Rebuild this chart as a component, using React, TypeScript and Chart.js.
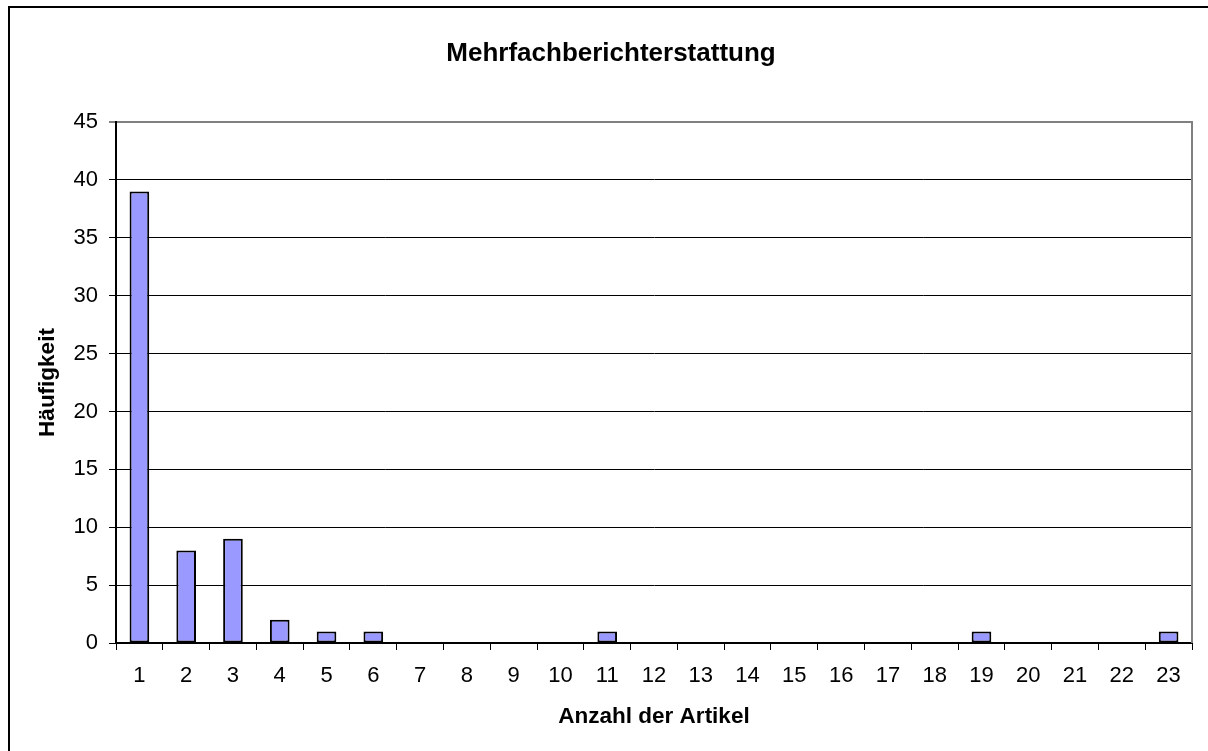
import React, { useEffect, useRef } from "react";
import { Chart, registerables } from "chart.js";

Chart.register(...registerables);

const categories: string[] = [
  "1", "2", "3", "4", "5", "6", "7", "8", "9", "10", "11", "12",
  "13", "14", "15", "16", "17", "18", "19", "20", "21", "22", "23",
];
const frequencies: number[] = [
  39, 8, 9, 2, 1, 1, 0, 0, 0, 0, 1, 0, 0, 0, 0, 0, 0, 0, 1, 0, 0, 0, 1,
];
const yMin = 0;
const yMax = 45;
const yStep = 5;

const chartTitle = "Mehrfachberichterstattung";
const xTitle = "Anzahl der Artikel";
const yTitle = "Häufigkeit";

const FONT = "'Liberation Sans', Arial, sans-serif";

const plotBorder = {
  id: "plotBorder",
  afterDraw(chart: any) {
    const { ctx, chartArea } = chart;
    ctx.save();
    ctx.strokeStyle = "#808080";
    ctx.lineWidth = 2;
    ctx.beginPath();
    ctx.moveTo(chartArea.right, chartArea.top - 1);
    ctx.lineTo(chartArea.right, chartArea.bottom);
    ctx.stroke();
    ctx.restore();
  },
};

export default function App() {
  const ref = useRef<HTMLCanvasElement | null>(null);

  useEffect(() => {
    if (!ref.current) return;
    const chart = new Chart(ref.current, {
      type: "bar",
      data: {
        labels: categories,
        datasets: [
          {
            data: frequencies,
            backgroundColor: "#9999FF",
            borderColor: "#000000",
            borderWidth: 2,
            borderSkipped: false,
            barPercentage: 0.42,
            categoryPercentage: 1,
          },
        ],
      },
      options: {
        animation: false,
        responsive: false,
        devicePixelRatio: 1,
        layout: { padding: { top: 0, left: 30, right: 16, bottom: 0 } },
        plugins: {
          legend: { display: false },
          tooltip: { enabled: false },
          title: {
            display: true,
            text: chartTitle,
            color: "#000",
            font: { family: FONT, size: 26, weight: "bold" },
            padding: { top: 38, bottom: 52.8 },
          },
        },
        scales: {
          x: {
            afterFit: (s: any) => {
              s.height = 108;
            },
            grid: {
              display: true,
              drawOnChartArea: false,
              drawTicks: true,
              tickLength: 7,
              color: "#000",
              offset: true,
            },
            border: { display: true, color: "#000", width: 2 },
            ticks: {
              color: "#000",
              font: { family: FONT, size: 22 },
              padding: 12.8,
              maxRotation: 0,
              autoSkip: false,
            },
            title: {
              display: true,
              text: xTitle,
              color: "#000",
              font: { family: FONT, size: 22.5, weight: "bold" },
              padding: { top: 0, bottom: 20.5 },
            },
          },
          y: {
            min: yMin,
            max: yMax,
            afterFit: (s: any) => {
              s.width = 86;
            },
            grid: {
              color: (c: any) => (c.tick && c.tick.value === yMax ? "#808080" : "#000"),
              lineWidth: (c: any) => (c.tick && c.tick.value === yMax ? 2 : 1),
              tickLength: 7,
            },
            border: { display: true, color: "#000", width: 2 },
            ticks: {
              stepSize: yStep,
              color: "#000",
              font: { family: FONT, size: 22 },
              padding: 11,
            },
            title: {
              display: true,
              text: yTitle,
              color: "#000",
              font: { family: FONT, size: 22.5, weight: "bold" },
              padding: { top: 4.5, bottom: 0 },
            },
          },
        },
      },
      plugins: [plotBorder],
    });
    return () => chart.destroy();
  }, []);

  return (
    <div
      style={{
        position: "fixed",
        left: 0,
        top: 0,
        width: 1208,
        height: 751,
        overflow: "hidden",
        background: "#fff",
      }}
    >
      <div
        style={{
          position: "absolute",
          left: 8,
          top: 6,
          width: 1300,
          height: 900,
          borderLeft: "2px solid #000",
          borderTop: "2px solid #000",
        }}
      />
      <canvas
        ref={ref}
        width={1208}
        height={751}
        style={{ position: "absolute", left: 0, top: 0, width: 1208, height: 751 }}
      />
    </div>
  );
}
